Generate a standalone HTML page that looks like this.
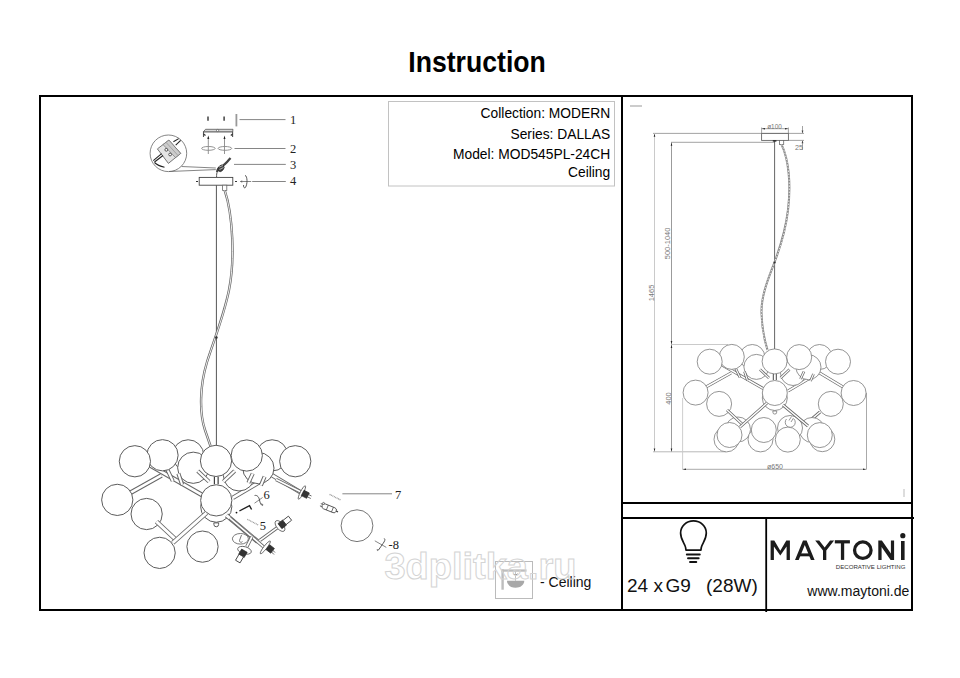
<!DOCTYPE html>
<html><head><meta charset="utf-8">
<style>
html,body{margin:0;padding:0;background:#fff;}
body{width:960px;height:678px;overflow:hidden;position:relative;font-family:"Liberation Sans",sans-serif;}
svg{position:absolute;left:0;top:0;display:block;}
</style></head>
<body>
<svg width="960" height="678" viewBox="0 0 960 678" font-family="Liberation Sans, sans-serif">

<text x="408.3" y="72" font-size="30" font-weight="bold" fill="#000" textLength="137.5" lengthAdjust="spacingAndGlyphs">Instruction</text>
<g stroke="#000" stroke-width="2" fill="none">
<rect x="40" y="96" width="872" height="514"/>
<line x1="622" y1="95" x2="622" y2="611"/>
<line x1="622" y1="503" x2="912" y2="503"/>
<line x1="622" y1="518" x2="914" y2="518"/>
</g>
<line x1="766.2" y1="518" x2="766.2" y2="612" stroke="#000" stroke-width="1.8"/>
<rect x="388.5" y="101.5" width="226" height="84.5" fill="none" stroke="#c2c2c2" stroke-width="1"/>
<g font-size="13.8" text-anchor="end" fill="#000">
<text x="610.2" y="118">Collection: MODERN</text>
<text x="610.2" y="139">Series: DALLAS</text>
<text x="610.2" y="159">Model: MOD545PL-24CH</text>
<text x="610.2" y="177.2">Ceiling</text>
</g>
<line x1="630" y1="106" x2="642" y2="106" stroke="#999" stroke-width="1"/>
<g stroke-width="0.9" fill="none">
<line x1="653" y1="133.4" x2="804" y2="133.4" stroke="#999"/>
<line x1="788" y1="140.4" x2="804" y2="140.4" stroke="#999"/>
<line x1="671" y1="142.3" x2="775" y2="142.3" stroke="#999"/>
<line x1="654.5" y1="133.4" x2="654.5" y2="451.8" stroke="#c4c4c4"/>
<line x1="671.5" y1="142.3" x2="671.5" y2="451.8" stroke="#909090"/>
<line x1="671.5" y1="344.5" x2="728" y2="344.5" stroke="#c4c4c4"/>
<line x1="653" y1="451.8" x2="726" y2="451.8" stroke="#b0b0b0"/>
<line x1="682.6" y1="398" x2="682.6" y2="469.3" stroke="#c8c8c8"/>
<line x1="866.5" y1="393" x2="866.5" y2="469.3" stroke="#a0a0a0"/>
<line x1="682.5" y1="469.3" x2="866.5" y2="469.3" stroke="#a0a0a0"/>
<g stroke="#999"><line x1="761.6" y1="127.5" x2="761.6" y2="133.4"/><line x1="788.4" y1="127.5" x2="788.4" y2="133.4"/><line x1="761.6" y1="128.7" x2="788.4" y2="128.7"/></g>
<line x1="802.5" y1="126" x2="802.5" y2="133" stroke="#999"/>
<line x1="802.5" y1="141" x2="802.5" y2="150" stroke="#999"/>
</g>
<g fill="#444"><path d="M801.6 130.5 L803.4 130.5 L802.5 133.3 Z"/><path d="M801.6 143.3 L803.4 143.3 L802.5 140.5 Z"/></g>
<path d="M654.5 133.8 L653.7 136.8 L655.3 136.8 Z M654.5 451.4 L653.7 448.4 L655.3 448.4 Z M671.5 142.7 L670.7 145.7 L672.3 145.7 Z M671.5 344.1 L670.7 341.1 L672.3 341.1 Z M671.5 344.9 L670.7 347.9 L672.3 347.9 Z M671.5 451.4 L670.7 448.4 L672.3 448.4 Z M683 469.3 L686 468.5 L686 470.1 Z M866 469.3 L863 468.5 L863 470.1 Z M762 128.7 L765 127.9 L765 129.5 Z M788 128.7 L785 127.9 L785 129.5 Z" fill="#222"/>
<g fill="#777" font-size="7">
<text x="774.5" y="128.6" text-anchor="middle" font-size="6.4">&#248;100</text>
<text x="795" y="150.2" font-size="7.2">25</text>
<text x="775" y="468.6" text-anchor="middle" font-size="7">&#248;650</text>
<text transform="translate(670.3 243.4) rotate(-90)" text-anchor="middle" font-size="7.5">500-1040</text>
<text transform="translate(653.5 293) rotate(-90)" text-anchor="middle" font-size="7.5">1465</text>
<text transform="translate(671.2 398.5) rotate(-90)" text-anchor="middle" font-size="7.5">400</text>
</g>
<rect x="761.6" y="133.4" width="26.8" height="7" fill="#fff" stroke="#666" stroke-width="0.9"/>
<line x1="774.6" y1="140.4" x2="774.6" y2="350" stroke="#555" stroke-width="0.9"/>
<rect x="779.5" y="140.4" width="4.2" height="4.2" fill="#fff" stroke="#666" stroke-width="0.8"/>
<path d="M781.6 144.6 C789 160, 791 185, 788 210 C785 235, 779 250, 774.6 262 C769 277, 761 295, 761.5 313 C762 330, 765 342, 767.5 350" fill="none" stroke="#8a8a8a" stroke-width="2.1"/>
<path d="M781.6 144.6 C789 160, 791 185, 788 210 C785 235, 779 250, 774.6 262 C769 277, 761 295, 761.5 313 C762 330, 765 342, 767.5 350" fill="none" stroke="#fff" stroke-width="0.8" stroke-dasharray="1.5 1.5"/>
<circle cx="774.6" cy="262.5" r="1.1" fill="#333"/><rect x="772.8" y="140.2" width="3.6" height="1.4" fill="#222"/>
<g fill="none"><line x1="722" y1="365" x2="764" y2="389" stroke="#666" stroke-width="3"/><line x1="722" y1="365" x2="764" y2="389" stroke="#fff" stroke-width="1.5"/><line x1="706" y1="387" x2="731" y2="373" stroke="#666" stroke-width="3"/><line x1="706" y1="387" x2="731" y2="373" stroke="#fff" stroke-width="1.5"/><line x1="788" y1="391" x2="810" y2="378" stroke="#666" stroke-width="3"/><line x1="788" y1="391" x2="810" y2="378" stroke="#fff" stroke-width="1.5"/><line x1="818" y1="372" x2="843" y2="387" stroke="#666" stroke-width="3"/><line x1="818" y1="372" x2="843" y2="387" stroke="#fff" stroke-width="1.5"/></g>
<g fill="#fff" stroke="#7a7a7a" stroke-width="0.8"><circle cx="819.5" cy="357" r="12.5"/><circle cx="752.3" cy="357" r="12.5"/><circle cx="793" cy="373" r="12.5"/><circle cx="808.5" cy="367.2" r="12.5"/><circle cx="756.4" cy="366.9" r="12.5"/></g>
<g fill="none"><line x1="769" y1="378" x2="760" y2="369.5" stroke="#666" stroke-width="2.61"/><line x1="769" y1="378" x2="760" y2="369.5" stroke="#fff" stroke-width="1.11"/><line x1="780.5" y1="378" x2="789.5" y2="369.5" stroke="#666" stroke-width="2.61"/><line x1="780.5" y1="378" x2="789.5" y2="369.5" stroke="#fff" stroke-width="1.11"/><line x1="735.5" y1="368" x2="740" y2="377.5" stroke="#666" stroke-width="2.61"/><line x1="735.5" y1="368" x2="740" y2="377.5" stroke="#fff" stroke-width="1.11"/><line x1="744.5" y1="371.5" x2="747.5" y2="380.5" stroke="#666" stroke-width="2.61"/><line x1="744.5" y1="371.5" x2="747.5" y2="380.5" stroke="#fff" stroke-width="1.11"/><line x1="800.5" y1="379" x2="804" y2="371.5" stroke="#666" stroke-width="2.61"/><line x1="800.5" y1="379" x2="804" y2="371.5" stroke="#fff" stroke-width="1.11"/><line x1="810.5" y1="381" x2="813.5" y2="374" stroke="#666" stroke-width="2.61"/><line x1="810.5" y1="381" x2="813.5" y2="374" stroke="#fff" stroke-width="1.11"/></g>
<g fill="#fff" stroke="#7a7a7a" stroke-width="0.8"><circle cx="731.8" cy="356.9" r="12.5"/><circle cx="709.7" cy="361.7" r="12.5"/><circle cx="799.2" cy="357.1" r="12.5"/><circle cx="838" cy="361.7" r="12.5"/><circle cx="774.6" cy="361.4" r="12.5"/><circle cx="774.8" cy="398" r="12.5"/><circle cx="774.8" cy="393" r="12.5"/></g>
<path d="M772.9 411 l0 1.2 a1.9 1.9 0 0 0 3.8 0 l0 -1.2 z" fill="#fff" stroke="#7a7a7a" stroke-width="0.8"/>
<g stroke="#333" stroke-width="0.9"><line x1="773.3" y1="374" x2="773.3" y2="380"/><line x1="776.3" y1="374" x2="776.3" y2="380"/></g>
<g fill="#fff" stroke="#7a7a7a" stroke-width="0.8"><circle cx="695.6" cy="392.6" r="12.5"/><circle cx="719.1" cy="403.9" r="12.5"/></g>
<g fill="none"><line x1="820" y1="412" x2="806" y2="424" stroke="#666" stroke-width="3"/><line x1="820" y1="412" x2="806" y2="424" stroke="#fff" stroke-width="1.5"/></g>
<g fill="#fff" stroke="#7a7a7a" stroke-width="0.8"><circle cx="853.6" cy="393" r="12.5"/><circle cx="830.8" cy="403.9" r="12.5"/></g>
<g fill="#fff" stroke="#7a7a7a" stroke-width="0.8"><circle cx="738" cy="429.5" r="12.5"/><circle cx="726.5" cy="439.4" r="12.5"/><circle cx="760.5" cy="439.4" r="12.5"/><circle cx="812" cy="430" r="12.5"/><circle cx="822.3" cy="439.2" r="12.5"/><circle cx="790" cy="428" r="12.5"/></g>
<path d="M794 419 A5 5 0 1 1 786.5 419" fill="#fff" stroke="#7a7a7a" stroke-width="0.8"/><path d="M789 420.5 L791.5 416.5 M791 422 L793.5 418" fill="none" stroke="#7a7a7a" stroke-width="0.8"/>
<g fill="none"><line x1="727" y1="410" x2="742" y2="424" stroke="#666" stroke-width="3"/><line x1="727" y1="410" x2="742" y2="424" stroke="#fff" stroke-width="1.5"/><line x1="767" y1="403" x2="740" y2="427" stroke="#666" stroke-width="3"/><line x1="767" y1="403" x2="740" y2="427" stroke="#fff" stroke-width="1.5"/><line x1="783" y1="405" x2="808" y2="426" stroke="#666" stroke-width="3"/><line x1="783" y1="405" x2="808" y2="426" stroke="#fff" stroke-width="1.5"/></g>
<g fill="#fff" stroke="#7a7a7a" stroke-width="0.8"><circle cx="729.5" cy="435" r="12.5"/><circle cx="763.8" cy="430" r="12.5"/></g>
<g fill="#fff" stroke="#7a7a7a" stroke-width="0.8"><circle cx="787.8" cy="439.6" r="12.5"/><circle cx="819.8" cy="435.1" r="12.5"/></g>
<line x1="904" y1="489" x2="904" y2="497" stroke="#bbb" stroke-width="1"/>
<g stroke="#777" stroke-width="0.9">
<line x1="239.5" y1="119.6" x2="285.5" y2="119.6"/>
<line x1="234.5" y1="148.5" x2="285.5" y2="148.5"/>
<line x1="234" y1="164.4" x2="285.8" y2="164.4"/>
<line x1="252.2" y1="181.5" x2="285.8" y2="181.5"/>
<line x1="342.4" y1="493.8" x2="392" y2="493.8"/>
</g>
<g font-size="12.5" fill="#222" font-family="Liberation Serif, serif">
<text x="290" y="124.2">1</text>
<text x="290" y="153.2">2</text>
<text x="290" y="169.4">3</text>
<text x="290" y="185">4</text>
<text x="263.5" y="498.8">6</text>
<text x="259.8" y="530.2">5</text>
<text x="395" y="498.5">7</text>
<text x="388.5" y="548.5">-8</text>
</g>
<g stroke="#333" stroke-width="1.4"><line x1="208" y1="116.4" x2="208" y2="120.7"/><line x1="224.1" y1="116.4" x2="224.1" y2="120.7"/></g>
<line x1="236.4" y1="114" x2="236.4" y2="126.4" stroke="#999" stroke-width="1.8"/>
<path d="M203.5 137 L203.5 131.8 L232.6 131.8 L232.6 137" fill="none" stroke="#555" stroke-width="1.1"/>
<path d="M203.5 131.8 L205.5 129.3 L233 129.3 L232.6 131.8 Z" fill="#d8d8d8" stroke="#555" stroke-width="0.8"/>
<path d="M203.5 134 L205.5 135.5 M232.6 134 L230.8 135.5" stroke="#333" stroke-width="1.2"/>
<circle cx="217.6" cy="130.5" r="1.1" fill="#fff" stroke="#444" stroke-width="0.6"/>
<g stroke="#888" stroke-width="0.9" fill="none">
<line x1="208.3" y1="137" x2="208.3" y2="154"/><line x1="224.5" y1="137" x2="224.5" y2="154"/>
<ellipse cx="208.4" cy="148.4" rx="6.8" ry="1.9"/><ellipse cx="224.9" cy="148.4" rx="6.8" ry="1.9"/>
</g>
<g fill="#222"><path d="M207.3 139 L209.3 139 L208.3 135.5 Z"/><path d="M223.5 139 L225.5 139 L224.5 135.5 Z"/></g>
<circle cx="168.4" cy="153.3" r="18.3" fill="#fff" stroke="#666" stroke-width="0.8"/>
<polygon points="157.4,148.9 168.9,140.1 180.7,153.4 168.4,163.4" fill="#e4e4e4" stroke="#555" stroke-width="0.8"/>
<polygon points="163,144.6 168.9,140.1 180.7,153.4 175.5,157.6" fill="#ccc" stroke="#666" stroke-width="0.6"/>
<line x1="166" y1="142.3" x2="178" y2="155.5" stroke="#888" stroke-width="0.6"/>
<g fill="#fff" stroke="#333" stroke-width="0.8"><circle cx="166.3" cy="149.8" r="1.4"/><circle cx="170.1" cy="154.5" r="1.4"/></g>
<g stroke="#222" stroke-width="1.1" fill="none"><line x1="173.4" y1="141.8" x2="178.7" y2="138.6"/><line x1="175.7" y1="145.1" x2="180.7" y2="140.4"/><line x1="161.6" y1="153.6" x2="153.3" y2="160.7"/><line x1="163" y1="155.5" x2="154.5" y2="162"/><path d="M154.5 162.5 C157 165, 161 166.5, 164.5 167.2"/></g>
<path d="M181.5 166.5 L215.8 168 M169 171.5 L215.8 169.6" stroke="#666" stroke-width="0.8" fill="none"/>
<path d="M217 172 C217.5 169, 219 167, 222 166 C225 165, 228 161, 230.5 158" stroke="#444" stroke-width="2.2" fill="none"/>
<ellipse cx="221" cy="168.3" rx="2.6" ry="3.6" transform="rotate(40 221 168.3)" fill="#444" stroke="#222" stroke-width="0.6"/>
<path d="M219 167 l4 -1.5 M219.5 169.5 l4 -2" stroke="#eee" stroke-width="0.6"/>
<path d="M216.6 177 C216.5 175, 216.7 173, 217.5 171" stroke="#444" stroke-width="0.9" fill="none"/>
<rect x="199.2" y="177.4" width="33.6" height="7.8" fill="#fff" stroke="#444" stroke-width="0.9"/>
<g fill="#333"><rect x="196" y="181" width="2" height="1"/><rect x="235" y="181" width="2" height="1"/></g>
<line x1="240.2" y1="181.5" x2="251.2" y2="181.5" stroke="#777" stroke-width="0.9"/>
<path d="M245 175.2 C247.6 176.5, 247.6 184, 245.5 187.4 C244.5 188.6, 243.2 187.2, 243.6 185" fill="none" stroke="#444" stroke-width="0.9"/><path d="M240.2 181.5 l2 -1.2 l0 2.4 z" fill="#666"/>
<line x1="216.4" y1="185.2" x2="216.4" y2="446" stroke="#555" stroke-width="1"/>
<rect x="222.6" y="185.2" width="4.2" height="5.2" fill="#fff" stroke="#666" stroke-width="0.8"/>
<path d="M224.7 190.4 C233 215, 235 260, 229 290 C224 315, 214 340, 207 362 C200 385, 199 412, 205 430 L210.5 446" fill="none" stroke="#666" stroke-width="2.4"/>
<path d="M224.7 190.4 C233 215, 235 260, 229 290 C224 315, 214 340, 207 362 C200 385, 199 412, 205 430 L210.5 446" fill="none" stroke="#fff" stroke-width="0.9"/>
<circle cx="216.4" cy="337.5" r="1.3" fill="#333"/>
<g transform="matrix(1.25 0 0 1.25 -752.25 9.125)"><g fill="none"><line x1="722" y1="365" x2="764" y2="389" stroke="#666" stroke-width="3.7"/><line x1="722" y1="365" x2="764" y2="389" stroke="#fff" stroke-width="2.2"/><line x1="706" y1="387" x2="731" y2="373" stroke="#666" stroke-width="3.7"/><line x1="706" y1="387" x2="731" y2="373" stroke="#fff" stroke-width="2.2"/><line x1="788" y1="391" x2="810" y2="378" stroke="#666" stroke-width="3.7"/><line x1="788" y1="391" x2="810" y2="378" stroke="#fff" stroke-width="2.2"/><line x1="818" y1="372" x2="843" y2="387" stroke="#666" stroke-width="3.7"/><line x1="818" y1="372" x2="843" y2="387" stroke="#fff" stroke-width="2.2"/></g>
<g fill="#fff" stroke="#5c5c5c" stroke-width="0.8"><circle cx="819.5" cy="357" r="12.5"/><circle cx="752.3" cy="357" r="12.5"/><circle cx="793" cy="373" r="12.5"/><circle cx="808.5" cy="367.2" r="12.5"/><circle cx="756.4" cy="366.9" r="12.5"/></g>
<g fill="none"><line x1="769" y1="378" x2="760" y2="369.5" stroke="#666" stroke-width="3.22"/><line x1="769" y1="378" x2="760" y2="369.5" stroke="#fff" stroke-width="1.72"/><line x1="780.5" y1="378" x2="789.5" y2="369.5" stroke="#666" stroke-width="3.22"/><line x1="780.5" y1="378" x2="789.5" y2="369.5" stroke="#fff" stroke-width="1.72"/><line x1="735.5" y1="368" x2="740" y2="377.5" stroke="#666" stroke-width="3.22"/><line x1="735.5" y1="368" x2="740" y2="377.5" stroke="#fff" stroke-width="1.72"/><line x1="744.5" y1="371.5" x2="747.5" y2="380.5" stroke="#666" stroke-width="3.22"/><line x1="744.5" y1="371.5" x2="747.5" y2="380.5" stroke="#fff" stroke-width="1.72"/><line x1="800.5" y1="379" x2="804" y2="371.5" stroke="#666" stroke-width="3.22"/><line x1="800.5" y1="379" x2="804" y2="371.5" stroke="#fff" stroke-width="1.72"/><line x1="810.5" y1="381" x2="813.5" y2="374" stroke="#666" stroke-width="3.22"/><line x1="810.5" y1="381" x2="813.5" y2="374" stroke="#fff" stroke-width="1.72"/></g>
<g fill="#fff" stroke="#5c5c5c" stroke-width="0.8"><circle cx="731.8" cy="356.9" r="12.5"/><circle cx="709.7" cy="361.7" r="12.5"/><circle cx="799.2" cy="357.1" r="12.5"/><circle cx="838" cy="361.7" r="12.5"/><circle cx="774.6" cy="361.4" r="12.5"/><circle cx="774.8" cy="398" r="12.5"/><circle cx="774.8" cy="393" r="12.5"/></g>
<path d="M772.9 411 l0 1.2 a1.9 1.9 0 0 0 3.8 0 l0 -1.2 z" fill="#fff" stroke="#5c5c5c" stroke-width="0.8"/>
<g stroke="#333" stroke-width="0.9"><line x1="773.3" y1="374" x2="773.3" y2="380"/><line x1="776.3" y1="374" x2="776.3" y2="380"/></g>
<g fill="#fff" stroke="#5c5c5c" stroke-width="0.8"><circle cx="695.6" cy="392.6" r="12.5"/><circle cx="719.1" cy="403.9" r="12.5"/></g>
<g fill="none"><line x1="727" y1="410" x2="742" y2="424" stroke="#666" stroke-width="3.7"/><line x1="727" y1="410" x2="742" y2="424" stroke="#fff" stroke-width="2.2"/><line x1="767" y1="403" x2="740" y2="427" stroke="#666" stroke-width="3.7"/><line x1="767" y1="403" x2="740" y2="427" stroke="#fff" stroke-width="2.2"/><line x1="783" y1="405" x2="808" y2="426" stroke="#666" stroke-width="3.7"/><line x1="783" y1="405" x2="808" y2="426" stroke="#fff" stroke-width="2.2"/></g>
<g fill="#fff" stroke="#5c5c5c" stroke-width="0.8"><circle cx="729.5" cy="435" r="12.5"/><circle cx="763.8" cy="430" r="12.5"/></g></g>
<line x1="276" y1="479.5" x2="300.5" y2="491.8" stroke="#666" stroke-width="3.4"/><line x1="276" y1="479.5" x2="300.5" y2="491.8" stroke="#fff" stroke-width="1.7"/>
<line x1="229.9" y1="518.1" x2="263.5" y2="546.8" stroke="#666" stroke-width="3.4"/><line x1="229.9" y1="518.1" x2="263.5" y2="546.8" stroke="#fff" stroke-width="1.7"/>
<line x1="259.9" y1="540.4" x2="277.7" y2="527.4" stroke="#666" stroke-width="3.4"/><line x1="259.9" y1="540.4" x2="277.7" y2="527.4" stroke="#fff" stroke-width="1.7"/>
<line x1="251.8" y1="536.8" x2="246.9" y2="546.5" stroke="#666" stroke-width="3.4"/><line x1="251.8" y1="536.8" x2="246.9" y2="546.5" stroke="#fff" stroke-width="1.7"/>
<g fill="#fff" stroke="#555" stroke-width="0.8">
<ellipse cx="301.9" cy="492.5" rx="1.6" ry="7.5" transform="rotate(27 301.9 492.5)"/>
<ellipse cx="265.3" cy="547.4" rx="1.6" ry="8" transform="rotate(38 265.3 547.4)"/>
<ellipse cx="280" cy="526" rx="6.5" ry="3.4" transform="rotate(50 280 526)"/>
<ellipse cx="244.5" cy="550.3" rx="7" ry="3.6" transform="rotate(15 244.5 550.3)"/>
<ellipse cx="240.4" cy="538.8" rx="8" ry="5.3"/>
</g>
<path d="M241.5 535 L239.5 540.5 C239 542, 241.5 543, 242.5 541.5" fill="none" stroke="#555" stroke-width="0.8"/>
<g fill="#333" stroke="#222" stroke-width="0.6">
<rect x="-3" y="-3" width="6" height="6" transform="translate(305.3 494.3) rotate(27)"/>
<rect x="-3" y="-3" width="6" height="6" transform="translate(270.2 549) rotate(38)"/>
<rect x="-3" y="-3.2" width="6" height="6.4" transform="translate(282.3 524.3) rotate(-38)"/>
<rect x="-3" y="-3.2" width="6" height="6.4" transform="translate(242.9 553.3) rotate(-60)"/>
</g>
<g fill="#fff" stroke="#333" stroke-width="0.8">
<rect x="0" y="-2.6" width="7" height="5.2" transform="translate(284.5 522.5) rotate(-38)"/>
<rect x="0" y="-2.6" width="7" height="5.2" transform="translate(241.3 555.5) rotate(120)"/>
</g>
<g stroke="#444" stroke-width="0.8"><line x1="307.5" y1="494" x2="311.5" y2="496"/><line x1="306.8" y1="496.5" x2="310.8" y2="498.5"/><line x1="272.5" y1="550" x2="275" y2="552.5"/><line x1="271.5" y1="552" x2="274" y2="554.5"/></g>
<g transform="translate(329.2 508.3) rotate(22)"><rect x="-7.5" y="-2.6" width="15" height="5.2" rx="2.4" fill="#fff" stroke="#444" stroke-width="0.8"/><line x1="-2" y1="-2.6" x2="-2" y2="2.6" stroke="#444" stroke-width="0.7"/><line x1="3.5" y1="-2.6" x2="3.5" y2="2.6" stroke="#444" stroke-width="0.7"/><line x1="7.5" y1="0" x2="9.5" y2="0" stroke="#444" stroke-width="1.2"/><line x1="-7.5" y1="-1.2" x2="-9.5" y2="-1.2" stroke="#444" stroke-width="0.8"/><line x1="-7.5" y1="1.2" x2="-9.5" y2="1.2" stroke="#444" stroke-width="0.8"/></g>
<circle cx="323.5" cy="503.4" r="1" fill="#fff" stroke="#444" stroke-width="0.7"/>
<line x1="329.6" y1="494.3" x2="340.9" y2="500.2" stroke="#999" stroke-width="1.4" stroke-dasharray="1 0.6"/>
<line x1="247.3" y1="519.3" x2="258.3" y2="525" stroke="#999" stroke-width="1.3" stroke-dasharray="1 0.6"/>
<line x1="254.5" y1="503.2" x2="262.6" y2="497.5" stroke="#888" stroke-width="1"/><path d="M254.6 495.5 C257.5 494.8, 259 497.5, 259.5 500 C260 503, 261.5 505.8, 262.6 505.4 C263.2 505, 262.4 503.6, 261.2 504" fill="none" stroke="#444" stroke-width="0.9"/>
<circle cx="236.5" cy="512.6" r="0.9" fill="#111"/>
<path d="M239.4 511 L249.5 505.6 L251.6 509.5" fill="none" stroke="#222" stroke-width="1.4"/>
<circle cx="357" cy="525.7" r="15.9" fill="#fff" stroke="#666" stroke-width="0.9"/>
<line x1="374.8" y1="540.8" x2="386.3" y2="547.4" stroke="#888" stroke-width="1"/><path d="M384.2 538.4 C385.6 539.2, 384.6 541.5, 383 543.5 C381.5 545.5, 380 548, 378.5 550 C377.6 551, 376.6 550.2, 377.5 549.2" fill="none" stroke="#444" stroke-width="0.9"/>
<path d="M686 550.2 L685.6 547.5 C685 543.5, 680.6 540, 680.6 533 C680.6 526, 686.5 520.9, 693.45 520.9 C700.4 520.9, 706.3 526, 706.3 533 C706.3 540, 701.9 543.5, 701.3 547.5 L700.9 550.2 Z" fill="none" stroke="#111" stroke-width="1.7" stroke-linejoin="round"/>
<g stroke="#111" stroke-width="1.9" stroke-linecap="round"><line x1="686.8" y1="554.5" x2="699.8" y2="554.5"/><line x1="688" y1="558.2" x2="698.7" y2="558.2"/><line x1="690" y1="562" x2="696.3" y2="562"/></g>
<text x="627" y="592" font-size="19" fill="#111">24 x</text>
<text x="665.5" y="592" font-size="19" fill="#111">G9</text>
<text x="706" y="592" font-size="19" fill="#111">(28W)</text>
<g fill="#1c1c1c">
<polygon points="770.6,560 770.6,540.4 774.3,540.4 780.3,550.8 786.3,540.4 789.9,540.4 789.9,560 786.6,560 786.6,546.6 780.3,555.6 773.9,546.6 773.9,560"/>
<polygon points="795,560 803,540.4 806.6,540.4 814.6,560 810.9,560 804.8,545 798.7,560"/>
<rect x="799.4" y="553.4" width="10.8" height="2.9"/>
<polygon points="815.2,540.4 819.2,540.4 824.65,547.6 830.1,540.4 834.1,540.4 826.3,550.6 826.3,560 823,560 823,550.6"/>
<rect x="834.8" y="540.2" width="15.1" height="3.2"/><rect x="840.9" y="543" width="3.3" height="16.9"/>
<polygon points="878.3,560 878.3,540.4 881.9,540.4 890.9,553.5 890.9,540.4 894.1,540.4 894.1,560 890.6,560 881.6,547 881.6,560"/>
<rect x="901" y="541" width="3.6" height="19"/>
<circle cx="902.8" cy="535.7" r="2.6"/>
</g>
<circle cx="862.8" cy="550.2" r="8.25" fill="none" stroke="#1c1c1c" stroke-width="3.3"/>
<text x="835.8" y="568.8" font-size="5" fill="#333" textLength="69.6" lengthAdjust="spacingAndGlyphs">DECORATIVE LIGHTING</text>
<text x="909.3" y="595.8" font-size="14" text-anchor="end" fill="#111">www.maytoni.de</text>
<rect x="495.5" y="561.5" width="37" height="37" fill="#fff" stroke="#bbb" stroke-width="1"/>
<g fill="#bdbdbd"><rect x="501.4" y="569.4" width="2.4" height="20.3"/><rect x="501.4" y="569.4" width="25.1" height="2.3"/></g><path d="M507 580.8 L524.3 580.8 C524.3 585, 520.3 587.8, 515.6 587.8 C510.9 587.8, 507 585, 507 580.8 Z" fill="#a8a8a8"/>
<g stroke="#aaa" stroke-width="0.7" fill="none"><line x1="515.5" y1="571.7" x2="515.5" y2="580.8"/></g><path d="M513.2 573.8 Q515.5 576.5 517.8 573.8" fill="none" stroke="#888" stroke-width="0.9"/>
<text x="540" y="587" font-size="14" fill="#111">- Ceiling</text>
<text x="384.5" y="579.4" font-size="36.5" font-weight="bold" fill="none" stroke="#d4d4d4" stroke-width="1" textLength="192" lengthAdjust="spacingAndGlyphs">3dplitka.ru</text>
</svg>
</body></html>
